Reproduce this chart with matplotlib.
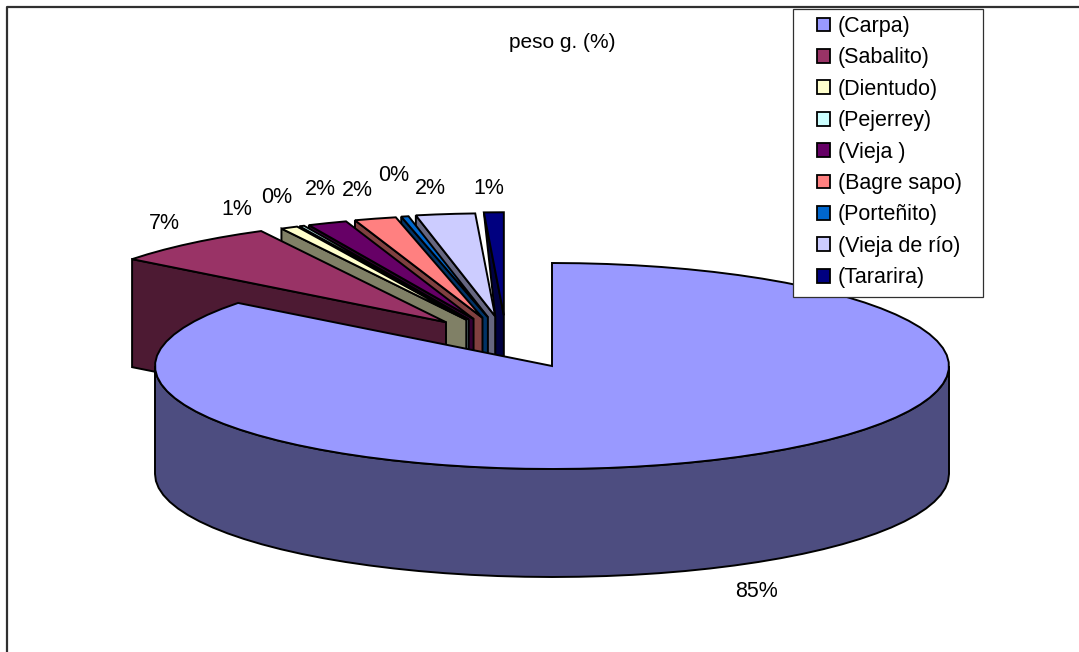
import numpy as np
import matplotlib
matplotlib.use("Agg")
import matplotlib.pyplot as plt
from matplotlib.patches import Polygon, Patch, Rectangle

plt.rcParams["font.family"] = ["Liberation Sans", "DejaVu Sans"]

especies = ["(Carpa)", "(Sabalito)", "(Dientudo)", "(Pejerrey)", "(Vieja )",
            "(Bagre sapo)", "(Porteñito)", "(Vieja de río)", "(Tararira)"]
peso = [85.4, 6.8, 0.7, 0.2, 1.6, 1.7, 0.3, 2.4, 0.8]
colores = ["#9999FF", "#993366", "#FFFFCC", "#CCFFFF", "#660066",
           "#FF8080", "#0066CC", "#CCCCFF", "#000080"]

# pie geometry, in pixels
CX, CY = 552, 366
RX, RY = 397, 103
DEPTH = 108

# nudges of the percent labels from the middle of each outer arc
label_nudge = [(30, 133), (-26, -20), (-52, -18), (-25, -29), (-7, -34),
               (-18, -28), (-11, -41), (-15, -26), (-5, -24)]


def darker(color):
    r, g, b = matplotlib.colors.to_rgb(color)
    return (r * 0.5, g * 0.5, b * 0.5)


def arc(cx, cy, t0, t1):
    # angles in degrees clockwise from twelve o'clock
    n = max(2, int(abs(t1 - t0) / 4) + 2)
    t = np.radians(np.linspace(t0, t1, n))
    return np.column_stack([cx + RX * np.sin(t), cy - RY * np.cos(t)])


fig = plt.figure(figsize=(10.79, 6.52), dpi=100)
ax = fig.add_axes([0, 0, 1, 1])
ax.set_xlim(0, 1079)
ax.set_ylim(652, 0)
ax.axis("off")

# chart frame, its bottom and right side run off the page
ax.plot([7, 7, 1079], [652, 6.5, 6.5], color="#303030", lw=1.6, zorder=1)

bounds = np.cumsum([0] + peso) / sum(peso) * 360
slices = []
for i in range(len(peso)):
    t0, t1 = bounds[i], bounds[i + 1]
    if i == 0:
        cx, cy = CX, CY
    else:
        # exploded slices fan out from the cut of the big one
        mid = (t0 + t1) / 2 - 360
        cx = CX - 46 + 1.5 * mid
        cy = CY - 51 - 0.18 * mid
    slices.append((t0, t1, cx, cy))

# back to front: last slice first, big slice on top
for i in range(len(peso) - 1, 0, -1):
    t0, t1, cx, cy = slices[i]
    top = arc(cx, cy, t0, t1)
    start = top[0]
    if i == len(peso) - 1:
        # the last cut face tapers towards its neighbour's apex
        nx, ny = slices[i - 1][2:]
        cara = [start, (cx, cy), (cx, cy + DEPTH), (nx, ny + DEPTH), (nx, ny)]
    else:
        cara = [start, (cx, cy), (cx, cy + DEPTH), (start[0], start[1] + DEPTH)]
    ax.add_patch(Polygon(cara, closed=True, fc=darker(colores[i]), ec="black", lw=1.4, zorder=2))
    ax.add_patch(Polygon(np.vstack([[(cx, cy)], top]), closed=True, fc=colores[i],
                         ec="black", lw=1.4, zorder=2))

t0, t1, cx, cy = slices[0]
pared = arc(cx, cy, 90, 270)
ax.add_patch(Polygon(np.vstack([pared, (pared + [0, DEPTH])[::-1]]), closed=True,
                     fc=darker(colores[0]), ec="black", lw=1.4, zorder=3))
ax.add_patch(Polygon(np.vstack([[(cx, cy)], arc(cx, cy, t0, t1)]), closed=True,
                     fc=colores[0], ec="black", lw=1.4, zorder=3))

for i, (t0, t1, cx, cy) in enumerate(slices):
    mid = arc(cx, cy, (t0 + t1) / 2, (t0 + t1) / 2 + 0.01)[0]
    dx, dy = label_nudge[i]
    ax.text(mid[0] + dx, mid[1] + dy, f"{peso[i]:.0f}%", fontsize=15.5,
            ha="center", va="center", color="black", zorder=5)

ax.text(562, 42, "peso g. (%)", fontsize=15, ha="center", va="center", color="black")

# legend box is wider than its content, so the frame is drawn on its own
ax.add_patch(Rectangle((793, 9), 190, 288, fc="white", ec="#303030", lw=0.9, zorder=6))
handles = [Patch(fc=c, ec="black", lw=1.3) for c in colores]
leg = ax.legend(handles, especies, loc="upper left", bbox_to_anchor=(817 / 1079, 1 - 16 / 652),
                bbox_transform=fig.transFigure, fontsize=15.5, frameon=False,
                borderaxespad=0, borderpad=0, labelspacing=0.483, handlelength=0.61,
                handleheight=0.61, handletextpad=0.37)
leg.set_zorder(7)

fig.savefig("out.png", dpi=100)
